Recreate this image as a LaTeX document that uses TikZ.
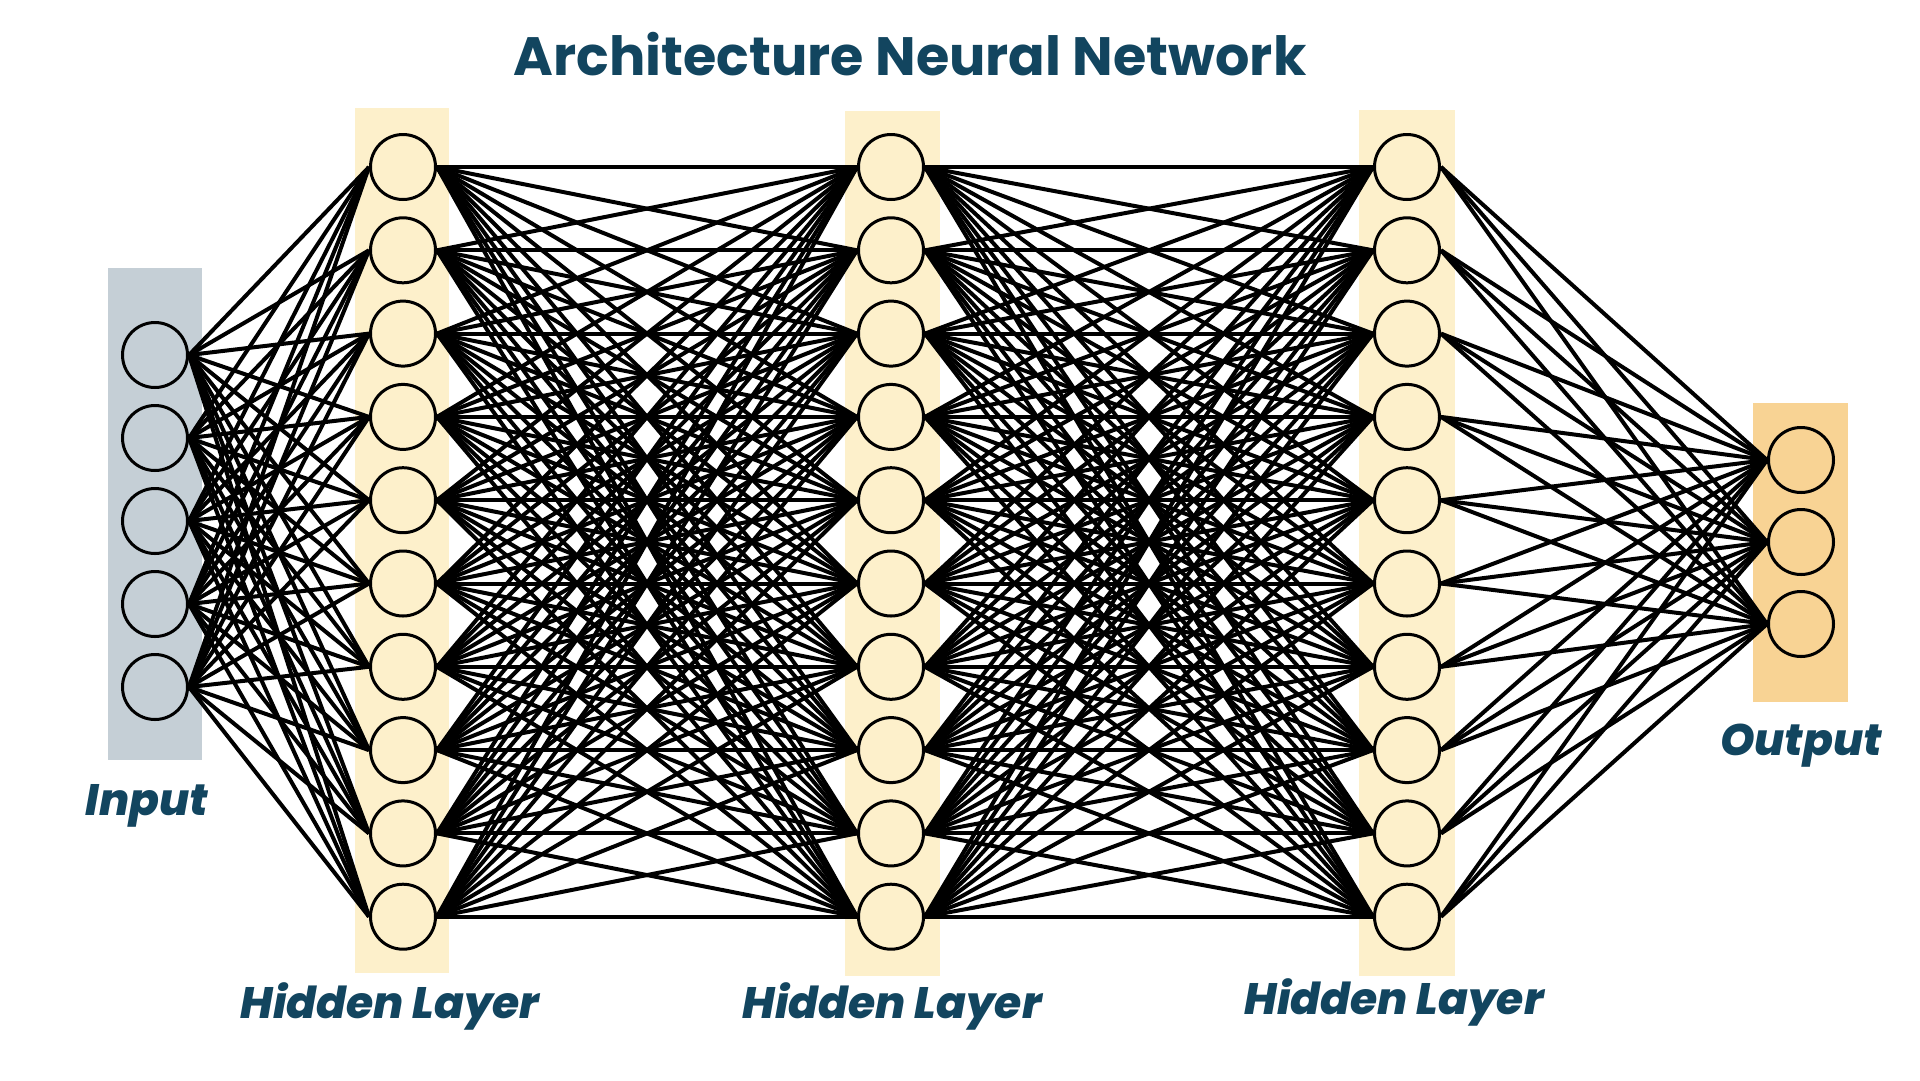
\documentclass[tikz,border=0pt]{standalone}
\usepackage{fontspec}
\setmainfont{Poppins}[BoldFont={Poppins ExtraBold}, BoldItalicFont={Poppins ExtraBold Italic}]
\newfontfamily\titlefont{Poppins}[UprightFont={* Bold}]
\usepackage{xcolor}
\usetikzlibrary{positioning}

\definecolor{titleblue}{HTML}{12455F}
\definecolor{inputgrey}{HTML}{C5CFD6}
\definecolor{hiddencream}{HTML}{FDF0CB}
\definecolor{outputorange}{HTML}{F8D394}

\tikzset{
    neuron/.style={circle, draw=black, line width=3pt, minimum size=65pt, inner sep=0pt},
    synapse/.style={line width=4pt, black},
    layerlabel/.style={text=titleblue, anchor=base, font=\fontsize{44}{54}\selectfont\bfseries\itshape},
    titlelabel/.style={text=titleblue, anchor=base, font=\fontsize{54}{66}\selectfont\titlefont}
}

\begin{document}
\begin{tikzpicture}[x=1pt, y=-1pt]
        \useasboundingbox[fill=white] (0,0) rectangle (1920,1080);

        % layer backgrounds
        \fill[inputgrey] (108,268) rectangle (202,760);
        \fill[hiddencream] (355,108) rectangle (449,973);
        \fill[hiddencream] (845,111) rectangle (940,976);
        \fill[hiddencream] (1359,110) rectangle (1455,976);
        \fill[outputorange] (1753,403) rectangle (1848,702);

        % neurons
        \foreach \i [evaluate=\i as \y using 355+(\i-1)*83] in {1,...,5}
            \node[neuron, fill=inputgrey] (in\i) at (155,\y) {};
        \foreach \i [evaluate=\i as \y using 167+(\i-1)*83.3] in {1,...,10} {
            \node[neuron, fill=hiddencream] (ha\i) at (403,\y) {};
            \node[neuron, fill=hiddencream] (hb\i) at (891,\y) {};
            \node[neuron, fill=hiddencream] (hc\i) at (1407,\y) {};
        }
        \foreach \i [evaluate=\i as \y using 460+(\i-1)*82] in {1,...,3}
            \node[neuron, fill=outputorange] (out\i) at (1801,\y) {};

        % connections
        \foreach \i in {1,...,5}
            \foreach \j in {1,...,10}
                \draw[synapse] (in\i.east) -- (ha\j.west);
        \foreach \i in {1,...,10}
            \foreach \j in {1,...,10} {
                \draw[synapse] (ha\i.east) -- (hb\j.west);
                \draw[synapse] (hb\i.east) -- (hc\j.west);
            }
        \foreach \i in {1,...,10}
            \foreach \j in {1,...,3}
                \draw[synapse] (hc\i.east) -- (out\j.west);

        % labels
        \node[titlelabel] (title) at (910,75) {Architecture Neural Network};
        \node[layerlabel] (inlabel) at (147,815) {Input};
        \node[layerlabel] (halabel) at (390,1018) {Hidden Layer};
        \node[layerlabel] (hblabel) at (892,1018) {Hidden Layer};
        \node[layerlabel] (hclabel) at (1394,1014) {Hidden Layer};
        \node[layerlabel] (outlabel) at (1801,755) {Output};
    \end{tikzpicture}
\end{document}
